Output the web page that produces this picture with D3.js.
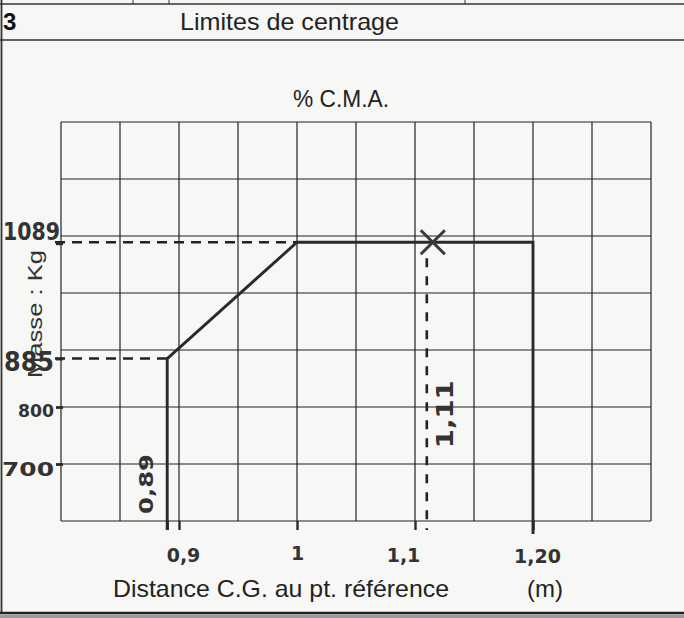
<!DOCTYPE html>
<html>
<head>
<meta charset="utf-8">
<script src="https://cdn.jsdelivr.net/npm/d3@7/dist/d3.min.js"></script>
<style>
  html, body { margin: 0; padding: 0; background: #f7f7f5; }
  svg { display: block; }
</style>
</head>
<body>
<svg id="chart" width="684" height="618"></svg>
<script>
// ---------------- data ----------------
const sectionNumber = "3";
const sectionTitle = "Limites de centrage";
const chartTitle = "% C.M.A.";
const xAxisTitle = "Distance C.G. au pt. référence";
const xUnit = "(m)";
const yAxisTitle = "Masse : Kg";

const xDomain = [0.8, 1.3];
const yDomain = [600, 1300];
const xGridStep = 0.05;
const yGridStep = 100;

// centring envelope (limits)
const envelopeX = [0.89, 0.89, 1.0, 1.20, 1.20];
const envelopeY = [600, 885, 1089, 1089, 600];

// loaded point
const pointX = [1.11];
const pointY = [1089];

// handwritten ticks
const xTickValues = [0.89, 0.9, 1.0, 1.1, 1.20];
const xTickLabels = ["", "0,9", "1", "1,1", "1,20"];
const xRotatedValues = [0.89, 1.11];
const xRotatedLabels = ["0,89", "1,11"];
const yTickValues = [700, 800, 885, 1089];
const yTickLabels = ["700", "800", "885", "1089"];

// dashed reference lines: [x, y] meet points
const refHX = [1.0, 0.89];
const refHY = [1089, 885];

// ---------------- drawing ----------------
const svg = d3.select("#chart");
const W = 684, H = 618;
const plot = { left: 61, right: 651, top: 122, bottom: 521 };
const ink = "#222";
const hand = "'DejaVu Sans', sans-serif";
const print = "'Liberation Sans', Arial, sans-serif";

const x = d3.scaleLinear().domain(xDomain).range([plot.left, plot.right]);
const y = d3.scaleLinear().domain(yDomain).range([plot.bottom, plot.top]);

// form frame
svg.append("line").attr("x1", 0).attr("x2", W).attr("y1", 4).attr("y2", 4)
  .attr("stroke", "#333").attr("stroke-width", 1.6);
[133, 169, 465].forEach(px => svg.append("line").attr("x1", px).attr("x2", px)
  .attr("y1", 0).attr("y2", 4).attr("stroke", "#333").attr("stroke-width", 1));
svg.append("line").attr("x1", 0).attr("x2", W).attr("y1", 40).attr("y2", 40)
  .attr("stroke", "#333").attr("stroke-width", 1.6);
svg.append("line").attr("x1", 1.5).attr("x2", 1.5).attr("y1", 0).attr("y2", 613)
  .attr("stroke", "#333").attr("stroke-width", 1.8);
svg.append("line").attr("x1", 0).attr("x2", W).attr("y1", 613).attr("y2", 613)
  .attr("stroke", "#222").attr("stroke-width", 2.5);
svg.append("rect").attr("x", 0).attr("y", 614.5).attr("width", W).attr("height", 4)
  .attr("fill", "#9a9a98");

svg.append("text").attr("x", 3).attr("y", 30).text(sectionNumber)
  .attr("font-family", print).attr("font-weight", "bold").attr("font-size", 24).attr("fill", "#111");
svg.append("text").attr("x", 180).attr("y", 30).text(sectionTitle)
  .attr("font-family", print).attr("font-size", 24).attr("fill", "#222")
  .attr("textLength", 219).attr("lengthAdjust", "spacingAndGlyphs");

svg.append("text").attr("x", 341).attr("y", 107).attr("text-anchor", "middle").text(chartTitle)
  .attr("font-family", print).attr("font-size", 23).attr("fill", "#222")
  .attr("textLength", 96).attr("lengthAdjust", "spacingAndGlyphs");

// grid
const xGrid = d3.range(xDomain[0], xDomain[1] + 1e-9, xGridStep);
const yGrid = d3.range(yDomain[0], yDomain[1] + 1e-9, yGridStep);
const g = svg.append("g");
g.selectAll(".vg").data(xGrid).join("line")
  .attr("x1", d => x(d)).attr("x2", d => x(d))
  .attr("y1", plot.top).attr("y2", plot.bottom)
  .attr("stroke", ink).attr("stroke-width", 1.2);
g.selectAll(".hg").data(yGrid).join("line")
  .attr("x1", plot.left).attr("x2", plot.right)
  .attr("y1", d => y(d)).attr("y2", d => y(d))
  .attr("stroke", ink).attr("stroke-width", 1.2);

// y-axis title (partly hidden behind the handwritten 885)
svg.append("text")
  .attr("transform", `translate(42,314) rotate(-90)`)
  .attr("text-anchor", "middle").text(yAxisTitle)
  .attr("font-family", print).attr("font-size", 20).attr("fill", "#333")
  .attr("textLength", 128).attr("lengthAdjust", "spacingAndGlyphs");

// dashed reference lines
svg.selectAll(".refh").data(refHX).join("line")
  .attr("x1", plot.left - 6).attr("x2", d => x(d))
  .attr("y1", (d, i) => y(refHY[i])).attr("y2", (d, i) => y(refHY[i]))
  .attr("stroke", ink).attr("stroke-width", 2.6).attr("stroke-dasharray", "10,7");
svg.selectAll(".refv").data(pointX).join("line")
  .attr("x1", d => x(d)).attr("x2", d => x(d))
  .attr("y1", (d, i) => y(pointY[i]) + 16).attr("y2", plot.bottom + 9)
  .attr("stroke", ink).attr("stroke-width", 2.6).attr("stroke-dasharray", "9,9");

// envelope
const env = envelopeX.map((d, i) => [d, envelopeY[i]]);
const line = d3.line().x(d => x(d[0])).y(d => y(d[1]));
svg.append("path").datum(env).attr("d", line)
  .attr("fill", "none").attr("stroke", "#2a2a2a").attr("stroke-width", 2.9)
  .attr("stroke-linejoin", "miter");
// extensions of envelope verticals below the axis
svg.selectAll(".ext").data([envelopeX[0], envelopeX[envelopeX.length - 1]]).join("line")
  .attr("x1", d => x(d)).attr("x2", d => x(d))
  .attr("y1", plot.bottom).attr("y2", (d, i) => plot.bottom + (i ? 13 : 9))
  .attr("stroke", "#2a2a2a").attr("stroke-width", 2.9);

// X marker
svg.selectAll(".pt").data(pointX).join("path")
  .attr("transform", (d, i) => `translate(${x(d) + 6},${y(pointY[i])})`)
  .attr("d", d3.symbol().type(d3.symbolX).size(380))
  .attr("fill", "none").attr("stroke", "#3a3a3a").attr("stroke-width", 3);

// x axis ticks and handwritten labels
const xAxis = d3.axisBottom(x).tickValues(xTickValues).tickSize(9)
  .tickFormat((d, i) => xTickLabels[i]);
const xa = svg.append("g").attr("transform", `translate(0,${plot.bottom})`).call(xAxis);
xa.select(".domain").remove();
xa.selectAll(".tick line").attr("stroke", "#2a2a2a").attr("stroke-width", 2.4);
xa.selectAll(".tick text")
  .attr("font-family", hand).attr("font-weight", "bold").attr("font-size", 19)
  .attr("fill", "#333").attr("dy", "1.4em");
xa.selectAll(".tick").filter((d, i) => xTickLabels[i] === "1,20")
  .select("text").attr("dx", 4).attr("dy", "1.6em");
xa.selectAll(".tick").filter((d, i) => xTickLabels[i] === "0,9")
  .select("text").attr("dx", 4).attr("dy", "1.5em");
xa.selectAll(".tick").filter((d, i) => xTickLabels[i] === "1,1")
  .select("text").attr("dx", -12).attr("dy", "1.5em");

// rotated handwritten x labels
svg.selectAll(".rot").data(xRotatedValues).join("text")
  .attr("transform", (d, i) => i === 0
    ? `translate(${x(d) - 14},${plot.bottom - 37}) rotate(-90)`
    : `translate(${x(d) + 26},${y(pointY[0]) + 172}) rotate(-90)`)
  .attr("text-anchor", "middle")
  .text((d, i) => xRotatedLabels[i])
  .attr("font-family", hand).attr("font-weight", "bold")
  .attr("font-size", (d, i) => i === 0 ? 19 : 23)
  .attr("textLength", (d, i) => i === 0 ? 60 : 68)
  .attr("lengthAdjust", "spacingAndGlyphs")
  .attr("fill", "#333");

// y axis ticks and handwritten labels
const yAxis = d3.axisLeft(y).tickValues(yTickValues).tickSize(7)
  .tickFormat((d, i) => yTickLabels[i]);
const ya = svg.append("g").attr("transform", `translate(${plot.left + 2},0)`).call(yAxis);
ya.select(".domain").remove();
ya.selectAll(".tick line").attr("stroke", "#2a2a2a").attr("stroke-width", 2.8);
ya.selectAll(".tick text")
  .attr("font-family", hand).attr("font-weight", "bold").attr("fill", "#333")
  .attr("x", -9)
  .attr("font-size", d => d === 1089 ? 25 : d === 885 ? 27 : d === 800 ? 17 : 20)
  .attr("dy", d => d === 1089 ? "-0.1em" : d === 885 ? "0.45em" : "0.55em")
  .attr("textLength", d => d === 1089 ? 57 : d === 885 ? 50 : d === 800 ? 36 : 52)
  .attr("lengthAdjust", "spacingAndGlyphs");
ya.selectAll(".tick").filter(d => d === 1089).select("text").attr("x", -3);
ya.selectAll(".tick").filter(d => d === 1089).select("line").attr("transform", "translate(0,1)");

// x-axis titles
svg.append("text").attr("x", 113).attr("y", 597).text(xAxisTitle)
  .attr("font-family", print).attr("font-size", 24).attr("fill", "#222")
  .attr("textLength", 336).attr("lengthAdjust", "spacingAndGlyphs");
svg.append("text").attr("x", 527).attr("y", 597).text(xUnit)
  .attr("font-family", print).attr("font-size", 24).attr("fill", "#222");
</script>
</body>
</html>
